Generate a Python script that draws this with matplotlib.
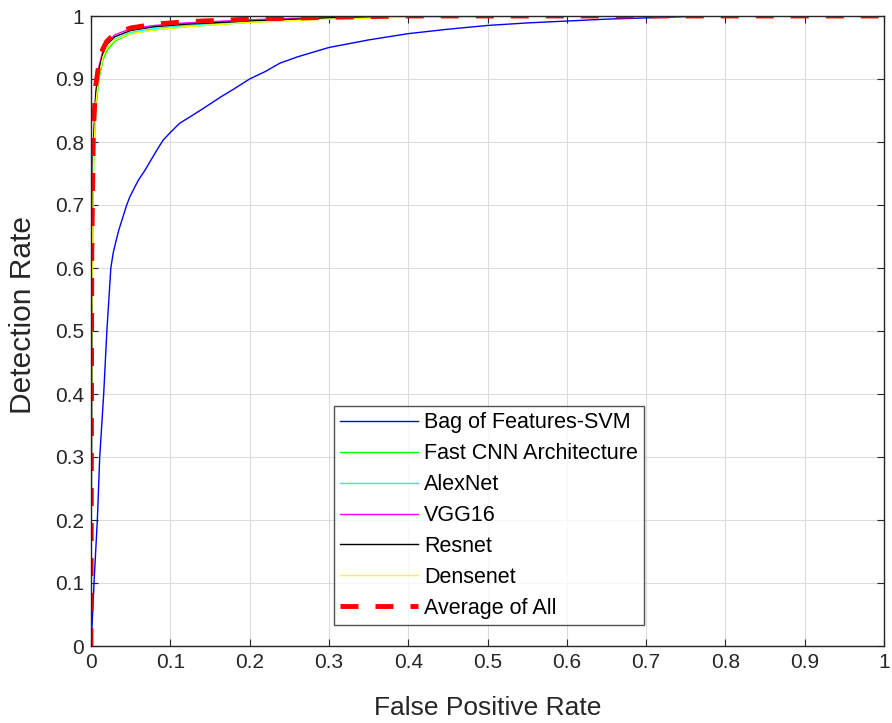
import numpy as np
import matplotlib.pyplot as plt

plt.rcParams['font.family'] = ['Liberation Sans', 'DejaVu Sans']

# ROC points (false positive rate, detection rate)
bof_fpr = [0, 0.002, 0.004, 0.008, 0.011, 0.016, 0.020, 0.025, 0.028, 0.031, 0.035, 0.04, 0.045, 0.049,
           0.055, 0.06, 0.068, 0.075, 0.083, 0.091, 0.1, 0.112, 0.125, 0.14, 0.163, 0.18, 0.2, 0.22,
           0.238, 0.26, 0.3, 0.35, 0.4, 0.45, 0.5, 0.55, 0.6, 0.65, 0.7, 0.75, 0.8, 1.0]
bof_tpr = [0, 0.05, 0.105, 0.2, 0.3, 0.4, 0.5, 0.6, 0.624, 0.64, 0.66, 0.68, 0.7, 0.713,
           0.728, 0.74, 0.755, 0.77, 0.787, 0.803, 0.815, 0.83, 0.84, 0.852, 0.871, 0.884, 0.9, 0.912,
           0.925, 0.935, 0.95, 0.962, 0.972, 0.979, 0.985, 0.989, 0.992, 0.995, 0.997, 0.999, 1.0, 1.0]

fast_fpr = [0, 0.001, 0.003, 0.006, 0.01, 0.015, 0.02, 0.03, 0.05, 0.08, 0.12, 0.2, 0.3, 0.4, 0.6, 1.0]
fast_tpr = [0, 0.5, 0.75, 0.85, 0.9, 0.93, 0.945, 0.96, 0.972, 0.978, 0.983, 0.99, 0.996, 0.999, 1.0, 1.0]

alex_fpr = [0, 0.001, 0.003, 0.006, 0.01, 0.015, 0.02, 0.03, 0.05, 0.08, 0.12, 0.2, 0.3, 0.4, 0.6, 1.0]
alex_tpr = [0, 0.55, 0.78, 0.87, 0.91, 0.935, 0.95, 0.963, 0.974, 0.98, 0.985, 0.991, 0.996, 0.999, 1.0, 1.0]

vgg_fpr = [0, 0.001, 0.003, 0.006, 0.01, 0.015, 0.02, 0.03, 0.05, 0.08, 0.12, 0.2, 0.3, 0.4, 0.6, 1.0]
vgg_tpr = [0, 0.6, 0.8, 0.88, 0.92, 0.945, 0.958, 0.97, 0.98, 0.985, 0.989, 0.994, 0.998, 1.0, 1.0, 1.0]

res_fpr = [0, 0.001, 0.003, 0.006, 0.01, 0.015, 0.02, 0.03, 0.05, 0.08, 0.12, 0.2, 0.3, 0.4, 0.6, 1.0]
res_tpr = [0, 0.58, 0.79, 0.875, 0.915, 0.94, 0.955, 0.967, 0.977, 0.983, 0.987, 0.992, 0.997, 1.0, 1.0, 1.0]

dense_fpr = [0, 0.001, 0.003, 0.006, 0.01, 0.015, 0.02, 0.03, 0.05, 0.08, 0.12, 0.2, 0.3, 0.4, 0.6, 1.0]
dense_tpr = [0, 0.52, 0.76, 0.86, 0.905, 0.935, 0.95, 0.962, 0.972, 0.978, 0.983, 0.99, 0.995, 0.998, 1.0, 1.0]

avg_fpr = [0, 0.001, 0.003, 0.006, 0.01, 0.015, 0.02, 0.03, 0.05, 0.08, 0.12, 0.2, 0.3, 0.4, 0.6, 1.0]
avg_tpr = [0, 0.62, 0.82, 0.89, 0.925, 0.948, 0.96, 0.972, 0.981, 0.987, 0.991, 0.995, 0.998, 1.0, 1.0, 1.0]

labels = ['Bag of Features-SVM', 'Fast CNN Architecture', 'AlexNet', 'VGG16', 'Resnet', 'Densenet', 'Average of All']

fig = plt.figure(figsize=(8.92, 7.23), dpi=100)
ax = fig.add_axes([91 / 892, 77 / 723, 793 / 892, 630 / 723])

ax.plot(bof_fpr, bof_tpr, color='#0000ff', lw=1.0, label=labels[0])
ax.plot(fast_fpr, fast_tpr, color='#00ff00', lw=1.0, label=labels[1])
ax.plot(alex_fpr, alex_tpr, color='#00ffff', lw=1.0, label=labels[2])
ax.plot(vgg_fpr, vgg_tpr, color='#ff00ff', lw=1.0, label=labels[3])
ax.plot(res_fpr, res_tpr, color='black', lw=1.0, label=labels[4])
ax.plot(dense_fpr, dense_tpr, color='#ffff00', lw=1.0, label=labels[5])
ax.plot(avg_fpr, avg_tpr, color='#ff0000', lw=3.5, ls=(0, (3.7, 3.5)), label=labels[6])

ax.set_xlim(0, 1)
ax.set_ylim(0, 1)
ticks = np.round(np.arange(0, 1.01, 0.1), 1)
ticklabels = ['0'] + ['%.1f' % t for t in ticks[1:-1]] + ['1']
ax.set_xticks(ticks)
ax.set_xticklabels(ticklabels)
ax.set_yticks(ticks)
ax.set_yticklabels(ticklabels)
ax.tick_params(direction='in', length=5, labelsize=15, colors='#262626', top=True, right=True, pad=5)
ax.grid(True, color='#dcdcdc', lw=0.8)
ax.set_axisbelow(True)
for s in ax.spines.values():
    s.set_color('#262626')
    s.set_linewidth(1.0)

ax.set_xlabel('False Positive Rate', fontsize=19, color='#262626', labelpad=17)
ax.set_ylabel('Detection Rate', fontsize=21.5, color='#262626')
ax.yaxis.set_label_coords(-0.068, 0.525)

leg = ax.legend(loc='lower center', bbox_to_anchor=(0.502, 0.033), fontsize=15.5, fancybox=False,
                edgecolor='#262626', handlelength=3.6, labelspacing=0.46, borderpad=0.3, handletextpad=0.3,
                borderaxespad=0)
leg.get_frame().set_linewidth(1.0)

fig.savefig('out.png', dpi=100)
